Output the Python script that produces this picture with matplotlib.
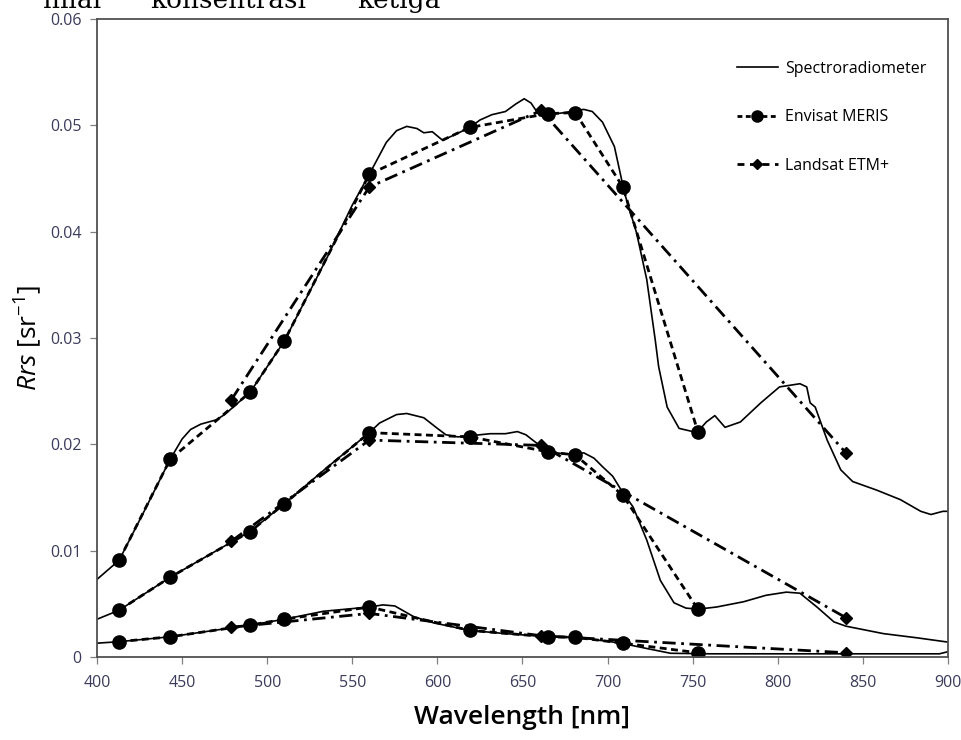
import matplotlib
matplotlib.use("Agg")
import matplotlib.pyplot as plt
from matplotlib.lines import Line2D

plt.rcParams['lines.scale_dashes'] = False
plt.rcParams['mathtext.fontset'] = 'custom'
plt.rcParams['mathtext.rm'] = 'Open Sans'
plt.rcParams['mathtext.it'] = 'Open Sans:italic'

# ---------------- data ----------------
spec_wl_upper = [400, 413, 428, 443, 450, 455, 461, 470, 475, 490, 510, 535, 550, 560, 565, 570, 576,
                 582, 588, 592, 597, 603, 610, 619, 625, 632, 640, 646, 651, 655, 660, 665, 675, 686,
                 691, 697, 704, 710, 717, 723, 728, 730, 735, 742, 750, 753, 758, 763, 769, 778, 790,
                 801, 813, 817, 819, 822, 829, 837, 844, 858, 872, 884, 890, 897, 900]
spec_upper = [0.0073, 0.0091, 0.0138, 0.0186, 0.0205, 0.0214, 0.0219, 0.0223, 0.0228, 0.0249, 0.0297,
              0.0375, 0.0425, 0.0454, 0.0469, 0.0484, 0.0495, 0.0499, 0.0497, 0.0493, 0.0494, 0.0486,
              0.0491, 0.0498, 0.0505, 0.0510, 0.0513, 0.0520, 0.0525, 0.0521, 0.0509, 0.0510, 0.0512,
              0.0515, 0.0513, 0.0503, 0.0480, 0.0436, 0.0399, 0.0355, 0.0298, 0.0273, 0.0235, 0.0215,
              0.0212, 0.0212, 0.0221, 0.0227, 0.0216, 0.0221, 0.0239, 0.0254, 0.0257, 0.0254, 0.0239,
              0.0235, 0.0204, 0.0176, 0.0165, 0.0157, 0.0148, 0.0137, 0.0134, 0.0137, 0.0137]

spec_wl_middle = [400, 413, 443, 480, 490, 510, 535, 560, 566, 576, 582, 592, 600, 605, 612, 619, 631,
                  640, 647, 652, 656, 665, 675, 682, 686, 692, 697, 703, 708, 715, 723, 731, 739, 746,
                  753, 764, 780, 793, 805, 813, 823, 833, 840, 862, 882, 900]
spec_middle = [0.00355, 0.0044, 0.0075, 0.0109, 0.0118, 0.0144, 0.0178, 0.0211, 0.0220, 0.0228, 0.0229,
               0.0225, 0.0215, 0.0209, 0.0207, 0.0208, 0.0210, 0.0210, 0.0212, 0.0209, 0.0204, 0.0193,
               0.0191, 0.0191, 0.0192, 0.0187, 0.0179, 0.0170, 0.0157, 0.0141, 0.0110, 0.0072, 0.0051,
               0.0046, 0.0045, 0.0047, 0.0052, 0.0058, 0.0061, 0.0060, 0.0047, 0.0033, 0.0029, 0.0022,
               0.0018, 0.0014]

spec_wl_lower = [400, 413, 443, 490, 510, 533, 560, 568, 575, 586, 598, 619, 640, 665, 682, 708, 723,
                 737, 760, 800, 850, 880, 895, 900]
spec_lower = [0.0013, 0.00144, 0.0019, 0.0030, 0.00355, 0.0043, 0.0047, 0.0049, 0.0048, 0.0038, 0.0032,
              0.0025, 0.0022, 0.0019, 0.00185, 0.0013, 0.0008, 0.00035, 0.0003, 0.0003, 0.0003, 0.0003,
              0.0003, 0.0005]

meris_wl = [413, 443, 490, 510, 560, 619, 665, 681, 709, 753]
meris_upper = [0.0091, 0.0186, 0.0249, 0.0297, 0.0454, 0.0498, 0.0511, 0.0512, 0.0442, 0.0212]
meris_middle = [0.0044, 0.0075, 0.0118, 0.0144, 0.0211, 0.0207, 0.0193, 0.0190, 0.0152, 0.0045]
meris_lower = [0.00144, 0.0019, 0.0030, 0.00355, 0.0047, 0.0025, 0.0019, 0.00185, 0.0013, 0.0004]

landsat_wl = [479, 560, 661, 840]
landsat_upper = [0.0242, 0.0442, 0.0514, 0.0192]
landsat_middle = [0.0109, 0.0204, 0.0199, 0.0037]
landsat_lower = [0.0028, 0.0041, 0.0020, 0.0004]

x_ticks = [400, 450, 500, 550, 600, 650, 700, 750, 800, 850, 900]
y_ticks = [0, 0.01, 0.02, 0.03, 0.04, 0.05, 0.06]
y_tick_labels = ['0', '0.01', '0.02', '0.03', '0.04', '0.05', '0.06']

# ---------------- figure ----------------
W, H = 962, 740
fig = plt.figure(figsize=(W / 100, H / 100), dpi=100)
ax = fig.add_axes([97 / W, 1 - 657 / H, (948 - 97) / W, (657 - 19) / H])

spec_kw = dict(color='black', lw=1.2, solid_joinstyle='round')
meris_kw = dict(color='black', lw=2.0, dashes=(5.0, 3.2), marker='o', markersize=9.5)
land_kw = dict(color='black', lw=2.0, dashes=(9.5, 4.0, 2.0, 4.0), marker='D', markersize=6.5)

for wl, vals in [(spec_wl_upper, spec_upper), (spec_wl_middle, spec_middle), (spec_wl_lower, spec_lower)]:
    ax.plot(wl, vals, **spec_kw)
for vals in [landsat_upper, landsat_middle, landsat_lower]:
    ax.plot(landsat_wl, vals, **land_kw)
for vals in [meris_upper, meris_middle, meris_lower]:
    ax.plot(meris_wl, vals, **meris_kw)

ax.set_xlim(400, 900)
ax.set_ylim(0, 0.06)
ax.set_xticks(x_ticks)
ax.set_yticks(y_ticks)
ax.set_yticklabels(y_tick_labels)

tick_color = '#3b3b5c'
for lab in ax.get_xticklabels() + ax.get_yticklabels():
    lab.set_fontfamily('Open Sans')
    lab.set_fontsize(11.5)
    lab.set_color(tick_color)
ax.tick_params(direction='out', length=5, width=0.9, color='#808080', pad=6)
ax.tick_params(axis='x', pad=8)
for sp in ax.spines.values():
    sp.set_color('#505050')
    sp.set_linewidth(1.3)

ax.set_xlabel('Wavelength [nm]', fontfamily='Open Sans', fontweight='semibold', fontsize=19)
ax.xaxis.set_label_coords(0.5, -(718 - 657) / (657 - 19), transform=ax.transAxes)
ax.xaxis.label.set_va('center')
ax.set_ylabel(r'$\mathit{Rrs}$ [sr$^{-1}$]', fontfamily='Open Sans', fontsize=19)
ax.yaxis.set_label_coords(-(97 - 28) / (948 - 97), 0.5, transform=ax.transAxes)
ax.yaxis.label.set_va('center')

# legend
handles = [Line2D([], [], **spec_kw),
           Line2D([], [], color='black', lw=2.0, dashes=(3.5, 2.5), marker='o', markersize=8),
           Line2D([], [], color='black', lw=2.0, dashes=(5.0, 4.0), marker='D', markersize=5)]
labels = ['Spectroradiometer', 'Envisat MERIS', 'Landsat ETM+']
leg = ax.legend(handles, labels, loc='upper left', bbox_to_anchor=(729 / W, 1 - 53 / H),
                bbox_transform=fig.transFigure, frameon=False, handlelength=2.55, borderpad=0,
                handletextpad=0.45, labelspacing=2.02, prop={'family': 'Open Sans', 'size': 11.5})

# partial caption text cut at the top of the image (as in the reference)
for word, xp in [('nilai', 43), ('konsentrasi', 150), ('ketiga', 357)]:
    fig.text(xp / W, 1 - 8 / H, word, fontfamily='DejaVu Serif', fontsize=19, va='baseline',
             ha='left', color='black')

fig.savefig('out.png', dpi=100)
